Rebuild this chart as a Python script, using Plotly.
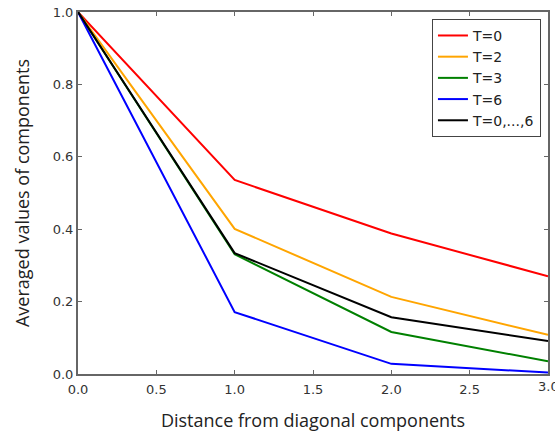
import plotly.graph_objects as go

# distance from the diagonal
distance = [0, 1, 2, 3]

# averaged component values per time step
t0 = [1.0, 0.536, 0.388, 0.270]
t2 = [1.0, 0.401, 0.213, 0.108]
t3 = [1.0, 0.331, 0.116, 0.035]
t6 = [1.0, 0.171, 0.028, 0.004]
t_all = [1.0, 0.334, 0.157, 0.091]

series = [
    ("T=0", t0, "#ff0000"),
    ("T=2", t2, "#ffa500"),
    ("T=3", t3, "#008000"),
    ("T=6", t6, "#0000ff"),
    ("T=0,...,6", t_all, "#000000"),
]

x_ticks = [0.0, 0.5, 1.0, 1.5, 2.0, 2.5, 3.0]
y_ticks = [0.0, 0.2, 0.4, 0.6, 0.8, 1.0]

fig = go.Figure()
for name, vals, color in series:
    fig.add_trace(go.Scatter(
        x=distance, y=vals, mode="lines", name=name,
        line=dict(color=color, width=2),
    ))

tick_font = dict(family="DejaVu Sans", size=13, color="#333333")
title_font = dict(family="Open Sans", size=18, color="#222222")
axis_common = dict(
    showgrid=False, zeroline=False, automargin=False,
    showline=True, linecolor="#666666", linewidth=2, mirror="ticks",
    ticks="inside", ticklen=4, tickcolor="#666666", tickwidth=1,
    tickfont=tick_font,
)

# the last x label sits on the plot's right edge; plotly would drop it,
# so it is placed as an annotation that is allowed to overflow
fig.update_xaxes(
    range=[0, 3], tickvals=x_ticks,
    ticktext=[f"{v:.1f}" if v < 3 else "" for v in x_ticks],
    title=dict(text="Distance from diagonal components", font=title_font, standoff=22),
    ticklabelstandoff=2,
    **axis_common,
)
fig.add_annotation(
    x=x_ticks[-1], y=0, xref="x", yref="paper", yanchor="top", xanchor="center",
    yshift=-3, text=f"{x_ticks[-1]:.1f}", showarrow=False, font=tick_font,
)
fig.update_yaxes(
    range=[0, 1], tickvals=y_ticks, ticktext=[f"{v:.1f}" for v in y_ticks],
    title=dict(text="Averaged values of components", font=title_font, standoff=18),
    **axis_common,
)

fig.update_layout(
    width=555, height=432,
    margin=dict(l=78, r=7, t=12, b=58),
    plot_bgcolor="white", paper_bgcolor="white",
    legend=dict(
        x=0.985, y=0.981, xanchor="right", yanchor="top",
        bordercolor="#444444", borderwidth=1, bgcolor="white",
        font=dict(family="DejaVu Sans", size=14, color="#222222"),
        tracegroupgap=0,
    ),
    showlegend=True,
)

fig.write_html("out.html")
